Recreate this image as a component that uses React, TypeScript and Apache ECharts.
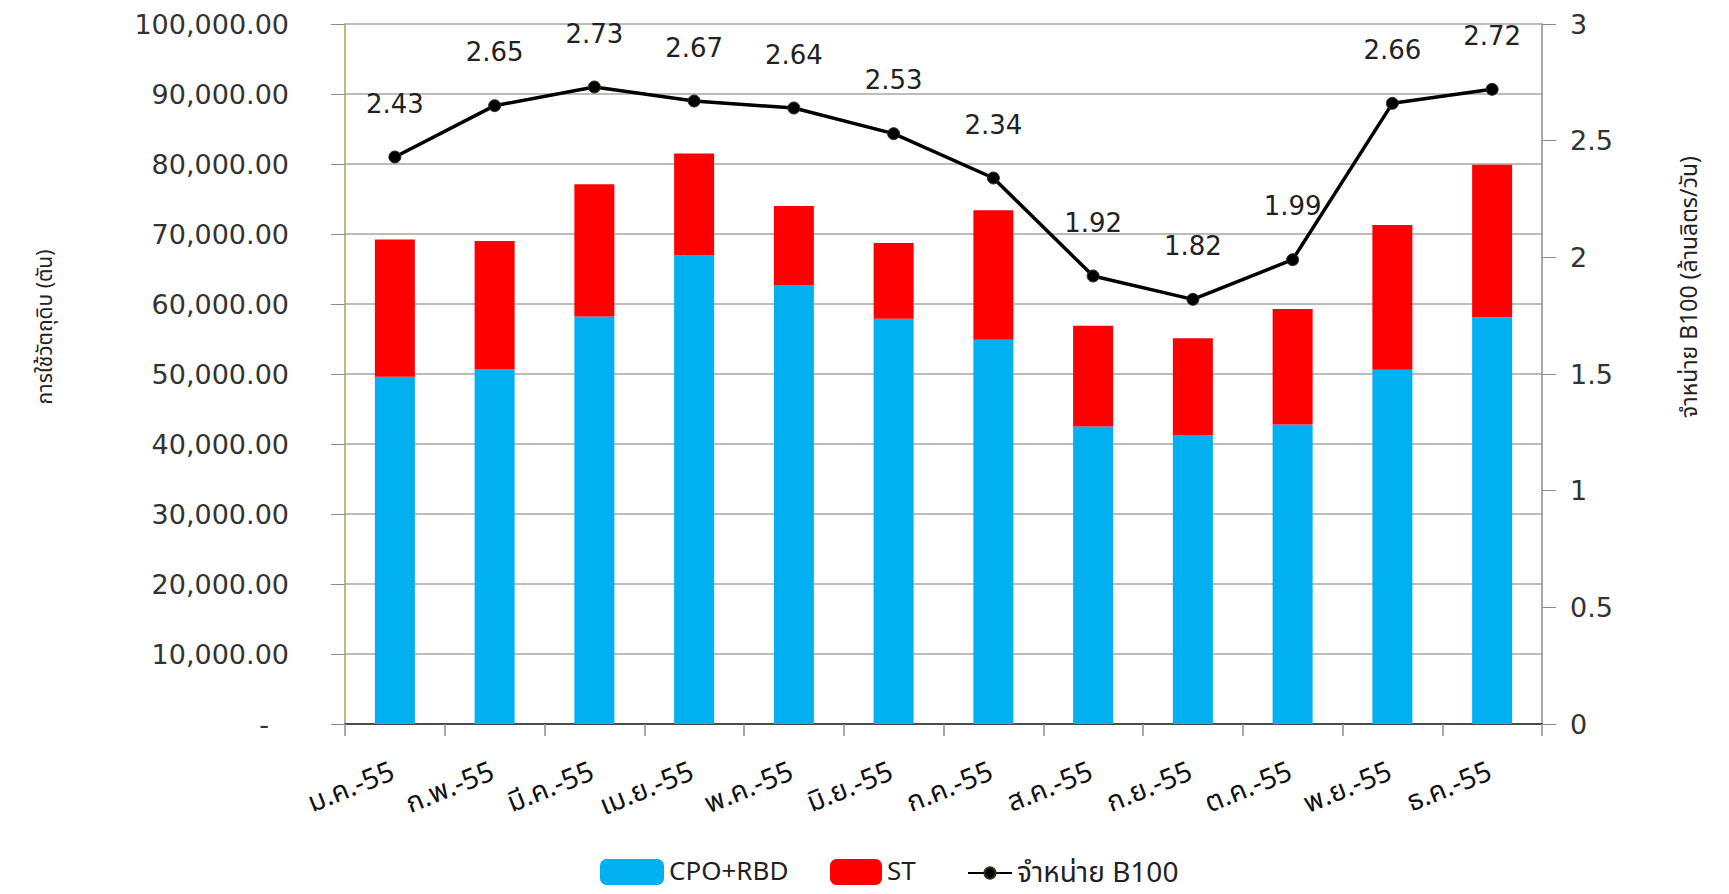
import React, { useEffect, useRef } from "react";
import * as echarts from "echarts";

// Monthly feedstock use (tonnes) and B100 sales (million litres/day), 2555
const months = [
  "ม.ค.-55", "ก.พ.-55", "มี.ค.-55", "เม.ย.-55", "พ.ค.-55", "มิ.ย.-55",
  "ก.ค.-55", "ส.ค.-55", "ก.ย.-55", "ต.ค.-55", "พ.ย.-55", "ธ.ค.-55",
];
const cpoRbd = [49600, 50700, 58200, 67000, 62700, 57900, 54900, 42500, 41300, 42800, 50600, 58100];
const st = [19600, 18300, 18900, 14500, 11300, 10800, 18500, 14400, 13800, 16500, 20700, 21800];
const b100 = [2.43, 2.65, 2.73, 2.67, 2.64, 2.53, 2.34, 1.92, 1.82, 1.99, 2.66, 2.72];

const seriesNames = ["CPO+RBD", "ST", "จำหน่าย B100"];
const leftAxisName = "การใช้วัตถุดิบ (ตัน)";
const rightAxisName = "จำหน่าย B100 (ล้านลิตร/วัน)";

const FONT = "'DejaVu Sans', 'Noto Sans', sans-serif";
const THAI_FONT = "Tahoma, 'Noto Sans Thai', 'Noto Sans', 'DejaVu Sans', sans-serif";

export default function App() {
  const ref = useRef<HTMLDivElement>(null);

  useEffect(() => {
    if (!ref.current) return;
    const chart = echarts.init(ref.current, undefined, { renderer: "svg" });

    const fmtLeft = (v: number) =>
      v === 0
        ? "{dash|-}"
        : v.toLocaleString("en-US", { minimumFractionDigits: 2, maximumFractionDigits: 2 });

    const legendText = (size: number) => ({ fontFamily: THAI_FONT, fontSize: size, color: "#222" });

    chart.setOption({
      animation: false,
      backgroundColor: "#ffffff",
      grid: { left: 345, right: 187, top: 24, bottom: 170, containLabel: false },
      legend: [
        {
          data: [seriesNames[0]],
          left: 595, top: 854,
          itemWidth: 64, itemHeight: 26, itemGap: 6,
          textStyle: legendText(26),
        },
        {
          data: [seriesNames[1]],
          left: 825, top: 854,
          itemWidth: 52, itemHeight: 26, itemGap: 6,
          textStyle: legendText(26),
        },
        {
          data: [seriesNames[2]],
          left: 962, top: 854,
          itemWidth: 44, itemHeight: 14, itemGap: 6,
          textStyle: legendText(28),
        },
      ],
      xAxis: [
        {
          type: "category",
          data: months,
          boundaryGap: true,
          axisLine: { lineStyle: { color: "#8c8c8c", width: 1.5 } },
          axisTick: { show: true, length: 12, lineStyle: { color: "#8c8c8c", width: 1.5 } },
          axisLabel: {
            rotate: 22,
            margin: 46,
            fontFamily: THAI_FONT,
            fontSize: 28,
            color: "#111",
            interval: 0,
            padding: [0, 2, 0, 0],
          },
        },
        {
          type: "category",
          data: months,
          position: "top",
          axisLine: { lineStyle: { color: "#333", width: 1.5 } },
          axisTick: { show: false },
          axisLabel: { show: false },
        },
      ],
      yAxis: [
        {
          type: "value",
          min: 0,
          max: 100000,
          interval: 10000,
          axisLine: { show: true, lineStyle: { color: "#a3a35a", width: 1.5 } },
          axisTick: { show: true, length: 14, lineStyle: { color: "#8c8c8c" } },
          splitLine: { lineStyle: { color: "#a6a6a6", width: 1.5 } },
          axisLabel: {
            margin: 56,
            fontFamily: FONT,
            fontSize: 27,
            color: "#333",
            formatter: fmtLeft,
            rich: { dash: { fontFamily: FONT, fontSize: 27, color: "#333", padding: [0, 20, 0, 0] } },
          },
        },
        {
          type: "value",
          min: 0,
          max: 3,
          interval: 0.5,
          position: "right",
          axisLine: { show: true, lineStyle: { color: "#8c8c8c", width: 1.5 } },
          axisTick: { show: true, length: 14, lineStyle: { color: "#8c8c8c" } },
          splitLine: { show: false },
          axisLabel: {
            margin: 28,
            fontFamily: FONT,
            fontSize: 27,
            color: "#333",
            formatter: (v: number) => String(v),
          },
        },
      ],
      series: [
        {
          name: seriesNames[0],
          type: "bar",
          stack: "feed",
          data: cpoRbd,
          barWidth: 40,
          itemStyle: { color: "#00b0f0" },
        },
        {
          name: seriesNames[1],
          type: "bar",
          stack: "feed",
          data: st,
          barWidth: 40,
          itemStyle: { color: "#ff0000" },
        },
        {
          name: seriesNames[2],
          type: "line",
          yAxisIndex: 1,
          data: b100,
          symbol: "circle",
          symbolSize: 12,
          lineStyle: { color: "#000", width: 3.5 },
          itemStyle: { color: "#000", borderColor: "#33331a", borderWidth: 1 },
          label: {
            show: true,
            position: "top",
            distance: 34,
            fontFamily: FONT,
            fontSize: 26,
            color: "#222",
            formatter: (p: any) => p.value.toFixed(2),
          },
        },
      ],
      graphic: [
        {
          type: "text",
          x: 45,
          y: 327,
          rotation: Math.PI / 2,
          style: {
            text: leftAxisName,
            font: `21px ${THAI_FONT}`,
            fill: "#222",
            align: "center",
            verticalAlign: "middle",
          },
        },
        {
          type: "text",
          x: 1690,
          y: 287,
          rotation: Math.PI / 2,
          style: {
            text: rightAxisName,
            font: `23px ${THAI_FONT}`,
            fill: "#222",
            align: "center",
            verticalAlign: "middle",
          },
        },
      ],
    });

    return () => chart.dispose();
  }, []);

  return (
    <div
      ref={ref}
      style={{ position: "fixed", left: 0, top: 0, width: 1729, height: 894 }}
    />
  );
}
